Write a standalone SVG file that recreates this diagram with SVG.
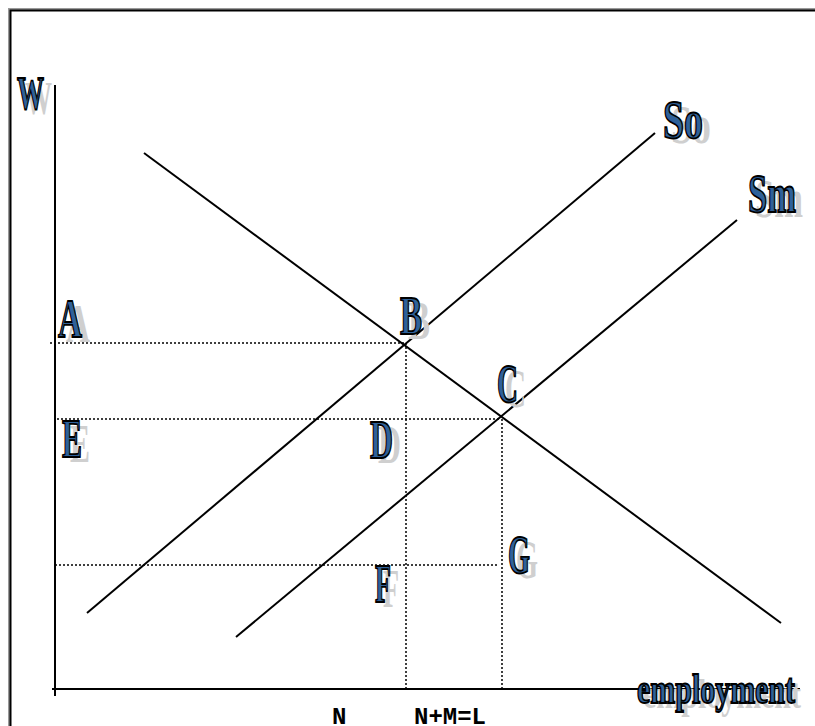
<svg xmlns="http://www.w3.org/2000/svg" width="815" height="726" viewBox="0 0 815 726">
<defs>
<style>
.ln{stroke:#000;stroke-width:2;fill:none}
.dot{stroke:#000;stroke-width:1.5;stroke-dasharray:2,2;fill:none}
.lbl{font-family:"Liberation Serif","Times New Roman",serif;font-size:54px;font-weight:bold;fill:#2f6199;stroke:#000;stroke-width:1.8}
.sh{font-family:"Liberation Serif","Times New Roman",serif;font-size:54px;font-weight:bold;fill:#cfcfcf;stroke:none}
.mono{font-family:"Liberation Mono","Courier New",monospace;font-size:24px;font-weight:bold;fill:#000}
</style>
</defs>
<rect width="815" height="726" fill="#fff"/>
<rect x="9.5" y="9.5" width="830" height="740" fill="none" stroke="#999" stroke-width="3"/>
<rect x="10.5" y="10.5" width="830" height="740" fill="none" stroke="#000" stroke-width="2"/>
<g id="connectors">
<line class="ln" x1="55" y1="85" x2="55" y2="696"/>
<line class="ln" x1="52" y1="689" x2="800" y2="689"/>
<line class="ln" x1="144" y1="153" x2="781" y2="623"/>
<line class="ln" x1="87" y1="613" x2="655" y2="133"/>
<line class="ln" x1="236" y1="637" x2="737" y2="220"/>
<line class="dot" x1="50" y1="343" x2="405" y2="343"/>
<line class="dot" x1="57" y1="419" x2="501" y2="419"/>
<line class="dot" x1="55" y1="565" x2="499" y2="565"/>
<line class="dot" x1="406" y1="343" x2="406" y2="689"/>
<line class="dot" x1="502" y1="419" x2="502" y2="689"/>
</g>
<g id="W"><text class="sh" x="25" y="114" style="font-size:46px" textLength="27" lengthAdjust="spacingAndGlyphs">W</text><text class="lbl" x="17" y="109" style="font-size:46px" textLength="27" lengthAdjust="spacingAndGlyphs">W</text></g>
<g id="So"><text class="sh" x="671" y="143" textLength="40" lengthAdjust="spacingAndGlyphs">So</text><text class="lbl" x="663" y="138" textLength="40" lengthAdjust="spacingAndGlyphs">So</text></g>
<g id="Sm"><text class="sh" x="755" y="217" textLength="48" lengthAdjust="spacingAndGlyphs">Sm</text><text class="lbl" x="748" y="212" textLength="48" lengthAdjust="spacingAndGlyphs">Sm</text></g>
<g id="A"><text class="sh" x="66" y="342" textLength="24" lengthAdjust="spacingAndGlyphs">A</text><text class="lbl" x="58" y="337" textLength="24" lengthAdjust="spacingAndGlyphs">A</text></g>
<g id="E"><text class="sh" x="70" y="462" textLength="20" lengthAdjust="spacingAndGlyphs">E</text><text class="lbl" x="62" y="457" textLength="20" lengthAdjust="spacingAndGlyphs">E</text></g>
<g id="B"><text class="sh" x="408" y="339" textLength="22" lengthAdjust="spacingAndGlyphs">B</text><text class="lbl" x="400" y="334" textLength="22" lengthAdjust="spacingAndGlyphs">B</text></g>
<g id="C"><text class="sh" x="505" y="407" textLength="21" lengthAdjust="spacingAndGlyphs">C</text><text class="lbl" x="497" y="402" textLength="21" lengthAdjust="spacingAndGlyphs">C</text></g>
<g id="D"><text class="sh" x="378" y="463" textLength="23" lengthAdjust="spacingAndGlyphs">D</text><text class="lbl" x="370" y="458" textLength="23" lengthAdjust="spacingAndGlyphs">D</text></g>
<g id="F"><text class="sh" x="383" y="607" textLength="16" lengthAdjust="spacingAndGlyphs">F</text><text class="lbl" x="375" y="602" textLength="16" lengthAdjust="spacingAndGlyphs">F</text></g>
<g id="G"><text class="sh" x="516" y="578" textLength="22" lengthAdjust="spacingAndGlyphs">G</text><text class="lbl" x="508" y="573" textLength="22" lengthAdjust="spacingAndGlyphs">G</text></g>
<g id="employment"><text class="sh" x="643" y="708" style="font-size:42px" textLength="158" lengthAdjust="spacingAndGlyphs">employment</text><text class="lbl" x="637" y="703" style="font-size:42px" textLength="158" lengthAdjust="spacingAndGlyphs">employment</text></g>
<g id="N"><text class="mono" x="332" y="724">N</text></g>
<g id="NML"><text class="mono" x="414" y="724">N+M=L</text></g>
</svg>
